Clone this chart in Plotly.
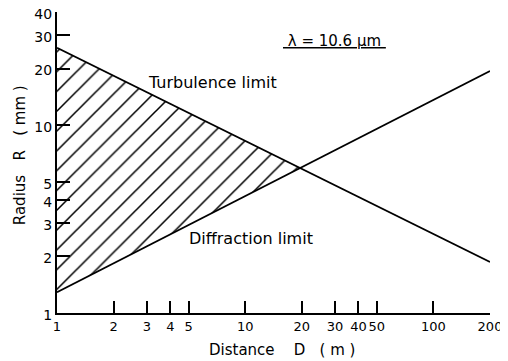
import numpy as np
import plotly.graph_objects as go

# Data (log-log straight lines)
distance = [1, 200]                 # D (m)
turbulence_limit = [25.8, 1.87]     # R (mm)
diffraction_limit = [1.29, 19.4]    # R (mm)

x_ticks = [1, 2, 3, 4, 5, 10, 20, 30, 40, 50, 100, 200]
y_ticks = [1, 2, 3, 4, 5, 10, 20, 30, 40]

# Intersection of the two limits (computed in log space)
lx = np.log10(distance)
lt = np.log10(turbulence_limit)
ld = np.log10(diffraction_limit)
st = (lt[1] - lt[0]) / (lx[1] - lx[0])
sd = (ld[1] - ld[0]) / (lx[1] - lx[0])
xi_log = lx[0] + (ld[0] - lt[0]) / (st - sd)
yi_log = lt[0] + st * (xi_log - lx[0])
xi, yi = 10 ** xi_log, 10 ** yi_log

FONT = "DejaVu Sans"
NB = "\u00a0"

fig = go.Figure()

# Hatched region between the limits
fig.add_trace(go.Scatter(
    x=[distance[0], xi, distance[0], distance[0]],
    y=[turbulence_limit[0], yi, diffraction_limit[0], turbulence_limit[0]],
    mode="lines", line=dict(width=0, color="rgba(0,0,0,0)"),
    fill="toself", fillcolor="white",
    fillpattern=dict(shape="/", fgcolor="black", fgopacity=1, bgcolor="white",
                     size=14, solidity=0.11, fillmode="replace"),
    hoverinfo="skip", showlegend=False,
))

fig.add_trace(go.Scatter(x=distance, y=turbulence_limit, mode="lines",
                         line=dict(color="black", width=1.8), showlegend=False))
fig.add_trace(go.Scatter(x=distance, y=diffraction_limit, mode="lines",
                         line=dict(color="black", width=1.8), showlegend=False))

fig.update_layout(
    width=500, height=353,
    margin=dict(l=49, r=18, t=4, b=48),
    paper_bgcolor="white", plot_bgcolor="white",
    font=dict(family=FONT, size=15, color="black"),
    xaxis=dict(
        type="log", range=[0, np.log10(200)], automargin=False,
        tickmode="array", tickvals=x_ticks, ticktext=[str(v) for v in x_ticks],
        tickangle=0, tickfont=dict(family=FONT, size=13), ticklabeloverflow="allow",
        ticks="inside", ticklen=12, tickwidth=1.5, tickcolor="black",
        showline=True, linewidth=2, linecolor="black", mirror=False,
        showgrid=False, zeroline=False,
    ),
    yaxis=dict(
        type="log", range=[0, np.log10(40)], automargin=False,
        tickmode="array", tickvals=y_ticks, ticktext=[str(v) for v in y_ticks],
        tickfont=dict(family=FONT, size=14), ticklabeloverflow="allow",
        ticklabelshift=2,
        ticks="inside", ticklen=13, tickwidth=1.5, tickcolor="black",
        showline=True, linewidth=2, linecolor="black", mirror=False,
        showgrid=False, zeroline=False,
    ),
    annotations=[
        dict(text="Distance" + NB * 4 + "D" + NB * 3 + "(" + NB + "m" + NB + ")",
             xref="paper", yref="paper", x=0.52, y=-0.123, showarrow=False,
             xanchor="center", yanchor="middle", font=dict(size=15)),
        dict(text="Radius" + NB * 3 + "R" + NB * 3 + "(" + NB + "mm" + NB + ")",
             xref="paper", yref="paper", x=-0.085, y=0.525, showarrow=False, textangle=-90,
             xanchor="center", yanchor="middle", font=dict(size=15)),
        dict(text="Turbulence limit", xref="paper", yref="paper", x=0.358, y=0.767,
             showarrow=False, xanchor="center", yanchor="middle", font=dict(size=16)),
        dict(text="Diffraction limit", xref="paper", yref="paper", x=0.448, y=0.246,
             showarrow=False, xanchor="center", yanchor="middle", font=dict(size=16)),
        dict(text="<u>" + NB + "\u03bb = 10.6 \u00b5m" + NB + "</u>", xref="paper", yref="paper",
             x=0.642, y=0.904, showarrow=False, xanchor="center", yanchor="middle",
             font=dict(size=15)),
    ],
)

fig.write_html("out.html")
